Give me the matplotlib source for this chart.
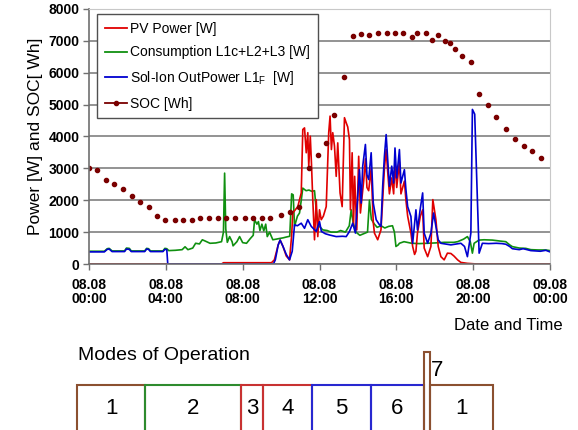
import matplotlib
matplotlib.use('Agg')
import matplotlib.pyplot as plt
from matplotlib.lines import Line2D
from matplotlib.patches import Rectangle

plt.rcParams['font.family'] = ['Liberation Sans', 'DejaVu Sans']
plt.rcParams['mathtext.default'] = 'regular'

# hours since 08.08 00:00
pv_t = [0, 6.9, 7.0, 9.5, 9.65, 9.85, 9.95, 10.1, 10.27, 10.44, 10.55, 10.61, 10.87, 11.05, 11.13,
        11.22, 11.31, 11.39, 11.44, 11.52, 11.58, 11.65, 11.74, 11.83, 11.91, 12.0, 12.09, 12.2,
        12.35, 12.48, 12.55, 12.62, 12.69, 12.78, 12.87, 12.95, 13.07, 13.18, 13.3, 13.39, 13.47,
        13.56, 13.61, 13.7, 13.77, 13.83, 13.94, 14.04, 14.13, 14.2, 14.3, 14.39, 14.47, 14.56,
        14.69, 14.8, 14.86, 15.03, 15.2, 15.29, 15.38, 15.47, 15.55, 15.64, 15.76, 15.86, 15.93,
        16.02, 16.16, 16.24, 16.42, 16.5, 16.59, 16.76, 16.85, 16.95, 17.02, 17.1, 17.25, 17.37,
        17.45, 17.63, 17.8, 17.9, 18.06, 18.18, 18.32, 18.49, 18.66, 18.84, 19.0, 19.19, 19.36,
        19.7, 20.2, 24]
pv_w = [0, 0, 40, 40, 130, 600, 750, 550, 250, 130, 900, 1600, 1800, 2230, 4220,
        4270, 3490, 4120, 3070, 4010, 3170, 2020, 760, 2020, 860, 1700, 1390, 1500,
        1800, 4120, 4640, 3590, 4120, 3700, 2750, 3800, 2230, 1800, 4590, 4430, 4300,
        3900, 1700, 3490, 1180, 2750, 1070, 3380, 1600, 2020, 2600, 3300, 2400, 2300,
        3000, 1300, 970, 760, 1070, 2020, 3000, 3590, 2900, 2200, 2700, 2200, 3200,
        2400, 3200, 2200, 2600, 2000, 1500, 970, 550, 300, 400, 970, 1500, 1700,
        500, 230, 550, 2020, 1390, 550, 230, 130, 340, 330, 250, 130, 50,
        20, 0, 0]

cons_t = [0, 0.8, 0.95, 1.05, 1.2, 1.85, 1.95, 2.1, 2.2, 2.9, 3.0, 3.1, 3.2, 3.85, 3.95, 4.05,
          4.15, 4.5, 4.85, 5.0, 5.15, 5.4, 5.55, 5.75, 5.9, 6.05, 6.3, 6.6, 6.9, 7.0, 7.06,
          7.12, 7.2, 7.32, 7.45, 7.5, 7.7, 7.84, 8.0, 8.2, 8.4, 8.55, 8.62, 8.74, 8.82, 8.9,
          9.0, 9.1, 9.2, 9.28, 9.4, 9.57, 9.75, 9.92, 10.1, 10.3, 10.45, 10.55, 10.63, 10.7,
          10.85, 10.96, 11.05, 11.13, 11.3, 11.45, 11.6, 11.74, 11.83, 11.92, 12.0, 12.17,
          12.4, 12.6, 12.9, 13.1, 13.35, 13.55, 13.65, 13.75, 13.9, 14.1, 14.3, 14.5, 14.6,
          14.7, 14.86, 15.0, 15.2, 15.4, 15.6, 15.8, 15.9, 15.98, 16.1, 16.16, 16.4, 16.8,
          17.2, 17.6, 18.0, 18.5, 19.0, 19.19, 19.5, 19.7, 19.85, 19.96, 20.05, 20.3, 20.57,
          21.0, 21.4, 21.7, 21.9, 22.04, 22.4, 22.74, 23.0, 23.4, 23.78, 24.0]
cons_w = [400, 400, 480, 490, 410, 410, 500, 490, 410, 410, 490, 480, 410, 410, 490, 480,
          420, 430, 450, 540, 450, 500, 650, 630, 760, 720, 650, 660, 700, 1000, 2850,
          1100, 680, 860, 700, 570, 700, 860, 670, 650, 800, 900, 1390, 1250, 1330, 1050,
          1250, 1040, 1250, 860, 1000, 760, 780, 800, 820, 850, 870, 2200, 2170, 1180,
          1500, 1600, 2000, 2380, 2300, 2320, 2280, 2300, 1700, 1250, 1180, 1070,
          1050, 1000, 1000, 1050, 1000, 1200, 1700, 1300, 1000, 900, 950, 1000, 2000,
          1400, 1250, 1150, 1200, 1130, 1180, 1200, 1000, 550, 600, 650, 700, 650,
          640, 650, 660, 680, 680, 700, 780, 860, 700, 340, 650, 750, 760,
          750, 720, 700, 600, 545, 500, 490, 450, 440, 440, 420]

out_t = [0, 0.8, 0.95, 1.05, 1.2, 1.85, 1.95, 2.1, 2.2, 2.9, 3.0, 3.1, 3.2, 3.85, 3.95, 4.05,
         4.1, 9.6, 9.7, 9.85, 9.95, 10.1, 10.27, 10.44, 10.58, 10.7, 10.85, 11.05, 11.22,
         11.39, 11.57, 11.83, 12.0, 12.1, 12.3, 12.52, 12.87, 13.2, 13.39, 13.56, 13.73,
         13.87, 13.99, 14.08, 14.17, 14.25, 14.39, 14.47, 14.56, 14.69, 14.8, 14.95, 15.1,
         15.2, 15.29, 15.38, 15.47, 15.55, 15.64, 15.76, 15.86, 15.93, 16.02, 16.16, 16.24,
         16.42, 16.5, 16.59, 16.76, 16.85, 17.02, 17.1, 17.25, 17.37, 17.45, 17.63, 17.8,
         17.94, 18.06, 18.18, 18.32, 18.84, 19.36, 19.55, 19.7, 19.88, 19.96, 20.08, 20.22,
         20.31, 20.48, 20.8, 21.2, 21.5, 21.7, 21.9, 22.04, 22.4, 22.6, 22.74, 23.0, 23.5,
         23.78, 24.0]
out_w = [380, 380, 460, 470, 390, 390, 470, 460, 390, 390, 470, 460, 390, 390, 460, 450,
         0, 0, 130, 600, 750, 550, 300, 130, 400, 1230, 1200, 1280, 1120,
         1390, 1180, 1020, 1330, 1020, 950, 910, 860, 870, 860, 1020, 1280,
         970, 2120, 2960, 1910, 3070, 3750, 2800, 2650, 3490, 1910, 1390, 1250,
         1180, 2440, 3380, 4060, 3280, 2440, 3070, 2540, 3640, 2700, 3590, 2540,
         2960, 2330, 1800, 1490, 650, 1700, 1070, 1750, 2230, 970, 650, 970,
         1600, 1180, 760, 650, 600, 650, 550, 230, 970, 4850, 4700, 2020,
         340, 650, 640, 650, 640, 620, 550, 480, 450, 480, 460, 420, 400,
         430, 380]

soc_t = [0.0, 0.43, 0.88, 1.31, 1.75, 2.22, 2.64, 3.12, 3.55, 3.98, 4.47, 4.9, 5.37, 5.8, 6.25,
         6.72, 7.15, 7.58, 8.1, 8.54, 9.0, 9.44, 10.01, 10.44, 10.92, 11.44, 11.91, 12.35, 12.78,
         13.3, 13.73, 14.17, 14.6, 15.06, 15.5, 15.93, 16.36, 16.8, 17.1, 17.54, 17.85, 18.15,
         18.53, 18.79, 19.05, 19.44, 19.88, 20.31, 20.78, 21.21, 21.7, 22.18, 22.65, 23.08, 23.52]
soc_wh = [3000, 2950, 2650, 2500, 2350, 2130, 1960, 1790, 1500, 1370, 1390, 1390, 1380, 1430, 1440,
          1440, 1440, 1440, 1440, 1440, 1440, 1440, 1540, 1620, 1800, 3000, 3430, 3800, 4690,
          5870, 7160, 7210, 7180, 7240, 7240, 7240, 7240, 7130, 7240, 7240, 7030, 7180,
          7000, 6920, 6760, 6530, 6340, 5320, 4990, 4610, 4250, 3930, 3700, 3560, 3330]

tick_hours = [0, 4, 8, 12, 16, 20, 24]
tick_labels = ['08.08\n00:00', '08.08\n04:00', '08.08\n08:00', '08.08\n12:00',
               '08.08\n16:00', '08.08\n20:00', '09.08\n00:00']

mode_labels = ['1', '2', '3', '4', '5', '6', '7', '1']
mode_edges = [0, 3.9, 9.43, 10.73, 13.52, 16.93, 19.98, 20.37, 24]
mode_colors = ['#8b5030', '#2e8b2e', '#c83232', '#c83232', '#2828d0', '#2828d0', '#8b5030', '#8b5030']

red = '#e00000'
green = '#109010'
blue = '#0000d0'
soc_col = '#7a0000'

fig = plt.figure(figsize=(5.78, 4.30), dpi=100)
ax = fig.add_axes([89 / 578, 1 - 264 / 430, 461 / 578, 255 / 430])

ax.plot(cons_t, cons_w, color=green, lw=1.2)
ax.plot(pv_t, pv_w, color=red, lw=1.2)
ax.plot(out_t, out_w, color=blue, lw=1.2)
ax.plot(soc_t, soc_wh, ls='none', marker='o', ms=3, color=soc_col)

ax.set_xlim(0, 24)
ax.set_ylim(0, 8000)
ax.set_yticks(range(0, 8001, 1000))
ax.set_xticks(tick_hours)
ax.set_xticklabels(tick_labels, fontweight='bold', fontsize=10, linespacing=1.0)
for lab in ax.get_yticklabels():
    lab.set_fontweight('bold')
    lab.set_fontsize(10)
ax.tick_params(axis='both', direction='out', length=4, width=1, color='#707070')
ax.tick_params(axis='x', pad=6)
ax.tick_params(axis='y', pad=3)
ax.grid(axis='y', color='#8a8a8a', lw=1.3)
ax.set_axisbelow(True)
for s in ['top', 'right']:
    ax.spines[s].set_color('#c8c8c8')
for s in ['left', 'bottom']:
    ax.spines[s].set_color('#707070')
    ax.spines[s].set_linewidth(1.2)

ax.set_ylabel('Power [W] and SOC[ Wh]', fontsize=12.5, labelpad=4)
fig.text(563 / 578, 1 - 325 / 430, 'Date and Time', fontsize=12, ha='right', va='center')

handles = [Line2D([], [], color=red, lw=1.3),
           Line2D([], [], color=green, lw=1.3),
           Line2D([], [], color=blue, lw=1.3),
           Line2D([], [], color=soc_col, lw=1.3, marker='o', ms=3)]
labels = ['PV Power [W]', 'Consumption L1c+L2+L3 [W]', 'Sol-Ion OutPower L1$_F$  [W]', 'SOC [Wh]']
leg = ax.legend(handles, labels, loc='upper left', bbox_to_anchor=(97 / 578, 1 - 14 / 430),
                bbox_transform=fig.transFigure, fontsize=10, fancybox=False, framealpha=1,
                edgecolor='#505050', handlelength=1.6, handletextpad=0.25, labelspacing=0.7,
                borderpad=0.55, borderaxespad=0)
leg.get_frame().set_linewidth(1.0)

# modes of operation strip
fig.text(78 / 578, 1 - 356 / 430, 'Modes of Operation', fontsize=14, va='center')
ax2 = fig.add_axes([77.3 / 578, 1 - 432 / 430, 416 / 578, 47 / 430])
ax2.set_xlim(0, 24)
ax2.set_ylim(0, 1)
ax2.axis('off')
for i, lab in enumerate(mode_labels):
    x0, x1 = mode_edges[i], mode_edges[i + 1]
    if lab == '7':
        ax2.add_patch(Rectangle((x0, 0), x1 - x0, 1.7, fill=False, ec=mode_colors[i], lw=1.5, clip_on=False))
        ax2.text(x1 + 0.05, 1.3, lab, fontsize=16, ha='left', va='center',
                 bbox=dict(fc='white', ec='none', pad=0.5))
    else:
        ax2.add_patch(Rectangle((x0, 0), x1 - x0, 1, fill=False, ec=mode_colors[i], lw=1.5, clip_on=False))
        ax2.text((x0 + x1) / 2, 0.5, lab, fontsize=16, ha='center', va='center')

fig.savefig('out.png', dpi=100)
